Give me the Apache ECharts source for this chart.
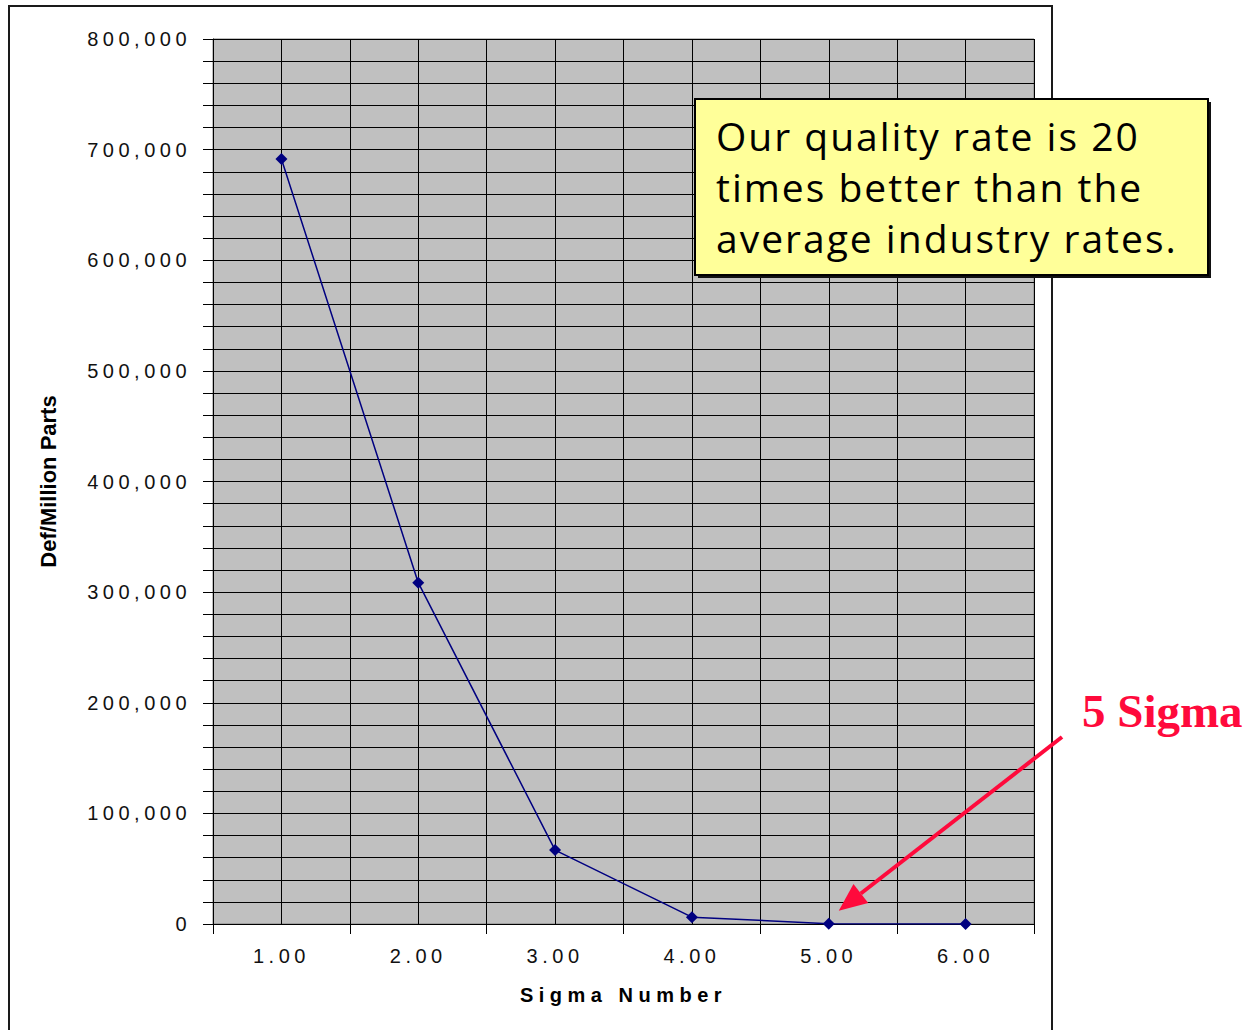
<!DOCTYPE html>
<html>
<head>
<meta charset="utf-8">
<script src="https://cdn.jsdelivr.net/npm/echarts@6/dist/echarts.min.js"></script>
<style>
  html, body { margin: 0; padding: 0; background: #ffffff; }
  #chart { width: 1249px; height: 1030px; }
  /* wide tracking on the axis texts */
  #chart text[style*="Liberation Sans"] { letter-spacing: 4.5px; }
  #chart text[style*="bold"][style*="Liberation Sans"] { letter-spacing: 5.5px; }
  #chart text[style*="Open Sans"] { letter-spacing: 2px; }
</style>
</head>
<body>
<div id="chart"></div>
<script>
// Sigma level vs. defects per million parts
const sigmaLevels = ['1.00', '2.00', '3.00', '4.00', '5.00', '6.00'];
const defectsPerMillion = [691462, 308538, 66807, 6210, 233, 3.4];
const yAxisTitle = 'Def/Million Parts';
const xAxisTitle = 'Sigma Number';
const noteLines = ['Our quality rate is 20', 'times better than the', 'average industry rates.'];
const calloutLabel = '5 Sigma';
const calloutIndex = 4;

const chart = echarts.init(document.getElementById('chart'), null, { renderer: 'svg' });

const option = {
  animation: false,
  backgroundColor: '#ffffff',
  grid: {
    left: 213, right: 215, top: 39, bottom: 106,
    show: true, backgroundColor: '#C0C0C0', borderColor: '#808080', borderWidth: 1
  },
  xAxis: [
    {
      type: 'category',
      data: sigmaLevels,
      boundaryGap: true,
      axisLine: { lineStyle: { color: '#000', width: 1 } },
      axisTick: { show: true, length: 10, lineStyle: { color: '#000' } },
      axisLabel: {
        color: '#111', fontSize: 20, fontFamily: 'Liberation Sans', margin: 22
      },
      splitLine: { show: false },
      name: xAxisTitle,
      nameLocation: 'middle',
      nameGap: 61,
      nameTextStyle: { color: '#000', fontSize: 20, fontWeight: 'bold', fontFamily: 'Liberation Sans' }
    },
    {
      // half-category grid lines
      type: 'value',
      position: 'top',
      min: 0.5, max: 6.5, interval: 0.5,
      axisLine: { show: false },
      axisTick: { show: false },
      axisLabel: { show: false },
      splitLine: { show: true, lineStyle: { color: '#000', width: 1 } }
    }
  ],
  yAxis: {
    type: 'value',
    min: 0, max: 800000, interval: 20000,
    axisLine: { show: true, lineStyle: { color: '#000', width: 1 } },
    axisTick: { show: true, length: 10, lineStyle: { color: '#000' } },
    axisLabel: {
      color: '#111', fontSize: 20, fontFamily: 'Liberation Sans', margin: 22,
      formatter: v => (v % 100000 === 0 ? v.toLocaleString('en-US') : '')
    },
    splitLine: { show: true, lineStyle: { color: '#000', width: 1 } },
    name: yAxisTitle,
    nameLocation: 'middle',
    nameGap: 154,
    nameRotate: 90,
    nameTextStyle: { color: '#000', fontSize: 22, fontWeight: 'bold', fontFamily: 'Arial' }
  },
  series: [{
    type: 'line',
    xAxisIndex: 0,
    data: defectsPerMillion,
    symbol: 'diamond',
    symbolSize: 12,
    showSymbol: true,
    lineStyle: { color: '#000080', width: 1.5 },
    itemStyle: { color: '#000080' },
    z: 5
  }]
};

chart.setOption(option);

// Callout arrow pointing at the 5-sigma point
const anchor = chart.convertToPixel({ gridIndex: 0 }, [calloutIndex, defectsPerMillion[calloutIndex]]);
const tip = [anchor[0] + 10, anchor[1] - 13];
const tail = [1062, 737];
const dx = tail[0] - tip[0], dy = tail[1] - tip[1];
const len = Math.sqrt(dx * dx + dy * dy);
const ux = dx / len, uy = dy / len;
const headLen = 28, headHalf = 12;
const base = [tip[0] + ux * headLen, tip[1] + uy * headLen];
const nx = -uy, ny = ux;
const calloutRed = '#FF0A3C';

chart.setOption({
  graphic: [
    {
      type: 'rect', silent: true, z: 1,
      shape: { x: 9, y: 6, width: 1043, height: 1060 },
      style: { fill: 'none', stroke: '#1a1a1a', lineWidth: 2 }
    },
    {
      type: 'rect', silent: true, z: 20,
      shape: { x: 698, y: 102, width: 513, height: 176 },
      style: { fill: '#111', stroke: 'none' }
    },
    {
      type: 'rect', silent: true, z: 21,
      shape: { x: 695, y: 99, width: 513, height: 176 },
      style: { fill: '#FFFF99', stroke: '#000', lineWidth: 2 }
    },
    {
      type: 'text', silent: true, z: 22,
      x: 716, y: 110,
      style: {
        text: noteLines.join('\n'),
        font: '39px "Comic Sans MS", "Open Sans", sans-serif',
        lineHeight: 51,
        fill: '#000',
        verticalAlign: 'top'
      }
    },
    {
      type: 'line', silent: true, z: 30,
      shape: { x1: tail[0], y1: tail[1], x2: base[0], y2: base[1] },
      style: { stroke: calloutRed, lineWidth: 4 }
    },
    {
      type: 'polygon', silent: true, z: 30,
      shape: {
        points: [
          tip,
          [base[0] + nx * headHalf, base[1] + ny * headHalf],
          [base[0] - nx * headHalf, base[1] - ny * headHalf]
        ]
      },
      style: { fill: calloutRed }
    },
    {
      type: 'text', silent: true, z: 30,
      x: 1082, y: 711,
      style: {
        text: calloutLabel,
        font: 'bold 47px "Liberation Serif", "Times New Roman", serif',
        fill: calloutRed,
        verticalAlign: 'middle'
      }
    }
  ]
});
</script>
</body>
</html>
